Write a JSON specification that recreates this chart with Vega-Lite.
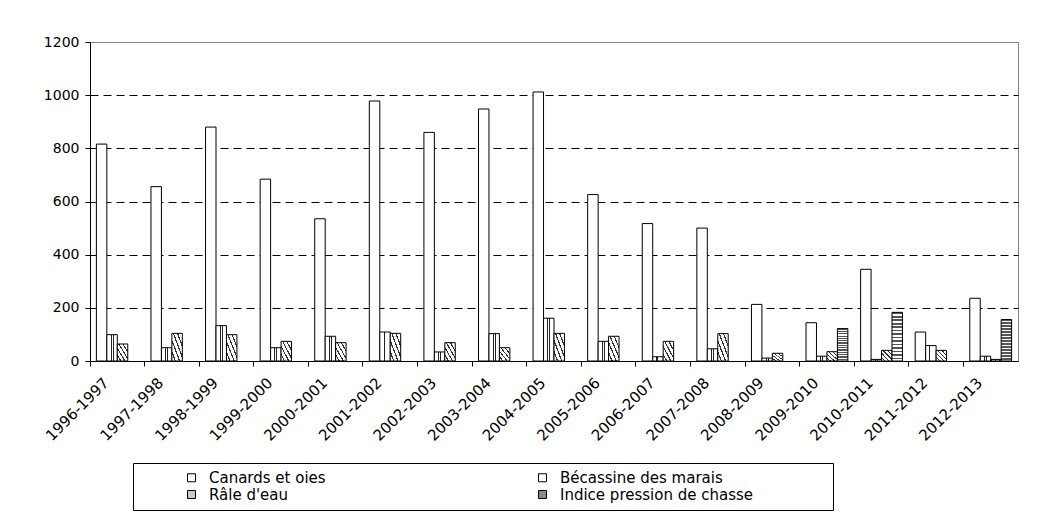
{
  "$schema": "https://vega.github.io/schema/vega-lite/v6.json",
  "width": 928,
  "height": 319,
  "autosize": {"type": "none"},
  "padding": {"left": 90, "top": 42, "right": 28, "bottom": 162},
  "background": "white",
  "config": {
    "font": "DejaVu Sans",
    "view": {"stroke": "#808080", "strokeWidth": 1}
  },
  "data": {
    "values": [
      {"season": "1996-1997", "series": "Canards et oies", "value": 816},
      {"season": "1996-1997", "series": "Bécassine des marais", "value": 99},
      {"season": "1996-1997", "series": "Râle d'eau", "value": 64},
      {"season": "1997-1998", "series": "Canards et oies", "value": 656},
      {"season": "1997-1998", "series": "Bécassine des marais", "value": 50},
      {"season": "1997-1998", "series": "Râle d'eau", "value": 104},
      {"season": "1998-1999", "series": "Canards et oies", "value": 880},
      {"season": "1998-1999", "series": "Bécassine des marais", "value": 133},
      {"season": "1998-1999", "series": "Râle d'eau", "value": 99},
      {"season": "1999-2000", "series": "Canards et oies", "value": 684},
      {"season": "1999-2000", "series": "Bécassine des marais", "value": 50},
      {"season": "1999-2000", "series": "Râle d'eau", "value": 74},
      {"season": "2000-2001", "series": "Canards et oies", "value": 535},
      {"season": "2000-2001", "series": "Bécassine des marais", "value": 93},
      {"season": "2000-2001", "series": "Râle d'eau", "value": 69},
      {"season": "2001-2002", "series": "Canards et oies", "value": 978},
      {"season": "2001-2002", "series": "Bécassine des marais", "value": 109},
      {"season": "2001-2002", "series": "Râle d'eau", "value": 104},
      {"season": "2002-2003", "series": "Canards et oies", "value": 860},
      {"season": "2002-2003", "series": "Bécassine des marais", "value": 34},
      {"season": "2002-2003", "series": "Râle d'eau", "value": 69},
      {"season": "2003-2004", "series": "Canards et oies", "value": 948},
      {"season": "2003-2004", "series": "Bécassine des marais", "value": 103},
      {"season": "2003-2004", "series": "Râle d'eau", "value": 50},
      {"season": "2004-2005", "series": "Canards et oies", "value": 1012},
      {"season": "2004-2005", "series": "Bécassine des marais", "value": 161},
      {"season": "2004-2005", "series": "Râle d'eau", "value": 104},
      {"season": "2005-2006", "series": "Canards et oies", "value": 626},
      {"season": "2005-2006", "series": "Bécassine des marais", "value": 74},
      {"season": "2005-2006", "series": "Râle d'eau", "value": 93},
      {"season": "2006-2007", "series": "Canards et oies", "value": 517},
      {"season": "2006-2007", "series": "Bécassine des marais", "value": 16},
      {"season": "2006-2007", "series": "Râle d'eau", "value": 74},
      {"season": "2007-2008", "series": "Canards et oies", "value": 500},
      {"season": "2007-2008", "series": "Bécassine des marais", "value": 46},
      {"season": "2007-2008", "series": "Râle d'eau", "value": 103},
      {"season": "2008-2009", "series": "Canards et oies", "value": 213},
      {"season": "2008-2009", "series": "Bécassine des marais", "value": 11},
      {"season": "2008-2009", "series": "Râle d'eau", "value": 29},
      {"season": "2009-2010", "series": "Canards et oies", "value": 144},
      {"season": "2009-2010", "series": "Bécassine des marais", "value": 18},
      {"season": "2009-2010", "series": "Râle d'eau", "value": 35},
      {"season": "2009-2010", "series": "Indice pression de chasse", "value": 122},
      {"season": "2010-2011", "series": "Canards et oies", "value": 345},
      {"season": "2010-2011", "series": "Bécassine des marais", "value": 6},
      {"season": "2010-2011", "series": "Râle d'eau", "value": 40},
      {"season": "2010-2011", "series": "Indice pression de chasse", "value": 183},
      {"season": "2011-2012", "series": "Canards et oies", "value": 109},
      {"season": "2011-2012", "series": "Bécassine des marais", "value": 58},
      {"season": "2011-2012", "series": "Râle d'eau", "value": 40},
      {"season": "2012-2013", "series": "Canards et oies", "value": 236},
      {"season": "2012-2013", "series": "Bécassine des marais", "value": 18},
      {"season": "2012-2013", "series": "Râle d'eau", "value": 6},
      {"season": "2012-2013", "series": "Indice pression de chasse", "value": 156}
    ]
  },
  "mark": {"type": "bar", "stroke": "black", "strokeWidth": 1},
  "encoding": {
    "x": {
      "field": "season",
      "type": "nominal",
      "scale": {"paddingInner": 0, "paddingOuter": 0},
      "axis": {
        "title": null,
        "labelAngle": -45,
        "labelFontSize": 15,
        "labelColor": "black",
        "labelOffset": -16,
        "labelPadding": 9,
        "domainColor": "black",
        "tickColor": "black",
        "tickSize": 5,
        "bandPosition": 0
      }
    },
    "xOffset": {
      "field": "series",
      "type": "nominal",
      "scale": {
        "domain": ["Canards et oies", "Bécassine des marais", "Râle d'eau", "Indice pression de chasse"],
        "paddingInner": 0,
        "paddingOuter": 0.61
      }
    },
    "y": {
      "field": "value",
      "type": "quantitative",
      "scale": {"domain": [0, 1200], "nice": false},
      "axis": {
        "title": null,
        "values": [0, 200, 400, 600, 800, 1000, 1200],
        "format": "d",
        "labelFontSize": 14,
        "labelColor": "black",
        "labelPadding": 6,
        "domainColor": "black",
        "tickColor": "black",
        "tickSize": 5,
        "grid": true,
        "gridColor": "black",
        "gridDash": [8, 5],
        "gridOpacity": {"condition": {"test": "datum.value === 1200 || datum.value === 0", "value": 0}, "value": 1}
      }
    },
    "fill": {
      "field": "series",
      "type": "nominal",
      "scale": {
        "domain": ["Canards et oies", "Bécassine des marais", "Râle d'eau", "Indice pression de chasse"],
        "range": ["#ffffff", "#ffffff", "#c8c8c8", "#8a8a8a"]
      },
      "condition": [
        {
          "test": "datum.series === 'Bécassine des marais'",
          "value": {
            "gradient": "linear", "x1": 0, "y1": 0, "x2": 1, "y2": 0,
            "stops": [
              {"offset": 0, "color": "#ffffff"},
              {"offset": 0.36, "color": "#ffffff"},
              {"offset": 0.36, "color": "#222222"},
              {"offset": 0.46, "color": "#222222"},
              {"offset": 0.46, "color": "#ffffff"},
              {"offset": 0.56, "color": "#ffffff"},
              {"offset": 0.56, "color": "#222222"},
              {"offset": 0.64, "color": "#222222"},
              {"offset": 0.64, "color": "#ffffff"},
              {"offset": 1, "color": "#ffffff"}
            ]
          }
        },
        {
          "test": "datum.series === 'Râle d\\'eau'",
          "value": {
            "gradient": "linear", "x1": 0, "y1": 1, "x2": 1, "y2": 0,
            "stops": [
              {"offset": 0, "color": "#ffffff"},
              {"offset": 0.14, "color": "#ffffff"},
              {"offset": 0.14, "color": "#333333"},
              {"offset": 0.2, "color": "#333333"},
              {"offset": 0.2, "color": "#ffffff"},
              {"offset": 0.34, "color": "#ffffff"},
              {"offset": 0.34, "color": "#333333"},
              {"offset": 0.4, "color": "#333333"},
              {"offset": 0.4, "color": "#ffffff"},
              {"offset": 0.54, "color": "#ffffff"},
              {"offset": 0.54, "color": "#333333"},
              {"offset": 0.6, "color": "#333333"},
              {"offset": 0.6, "color": "#ffffff"},
              {"offset": 0.74, "color": "#ffffff"},
              {"offset": 0.74, "color": "#333333"},
              {"offset": 0.8, "color": "#333333"},
              {"offset": 0.8, "color": "#ffffff"},
              {"offset": 1, "color": "#ffffff"}
            ]
          }
        },
        {
          "test": "datum.series === 'Indice pression de chasse'",
          "value": {
            "gradient": "linear", "x1": 0, "y1": 0, "x2": 0, "y2": 1,
            "stops": [
              {"offset": 0, "color": "#555555"}, {"offset": 0.0357, "color": "#555555"}, {"offset": 0.0357, "color": "#ffffff"}, {"offset": 0.0714, "color": "#ffffff"},
              {"offset": 0.0714, "color": "#555555"}, {"offset": 0.1071, "color": "#555555"}, {"offset": 0.1071, "color": "#ffffff"}, {"offset": 0.1429, "color": "#ffffff"},
              {"offset": 0.1429, "color": "#555555"}, {"offset": 0.1786, "color": "#555555"}, {"offset": 0.1786, "color": "#ffffff"}, {"offset": 0.2143, "color": "#ffffff"},
              {"offset": 0.2143, "color": "#555555"}, {"offset": 0.25, "color": "#555555"}, {"offset": 0.25, "color": "#ffffff"}, {"offset": 0.2857, "color": "#ffffff"},
              {"offset": 0.2857, "color": "#555555"}, {"offset": 0.3214, "color": "#555555"}, {"offset": 0.3214, "color": "#ffffff"}, {"offset": 0.3571, "color": "#ffffff"},
              {"offset": 0.3571, "color": "#555555"}, {"offset": 0.3929, "color": "#555555"}, {"offset": 0.3929, "color": "#ffffff"}, {"offset": 0.4286, "color": "#ffffff"},
              {"offset": 0.4286, "color": "#555555"}, {"offset": 0.4643, "color": "#555555"}, {"offset": 0.4643, "color": "#ffffff"}, {"offset": 0.5, "color": "#ffffff"},
              {"offset": 0.5, "color": "#555555"}, {"offset": 0.5357, "color": "#555555"}, {"offset": 0.5357, "color": "#ffffff"}, {"offset": 0.5714, "color": "#ffffff"},
              {"offset": 0.5714, "color": "#555555"}, {"offset": 0.6071, "color": "#555555"}, {"offset": 0.6071, "color": "#ffffff"}, {"offset": 0.6429, "color": "#ffffff"},
              {"offset": 0.6429, "color": "#555555"}, {"offset": 0.6786, "color": "#555555"}, {"offset": 0.6786, "color": "#ffffff"}, {"offset": 0.7143, "color": "#ffffff"},
              {"offset": 0.7143, "color": "#555555"}, {"offset": 0.75, "color": "#555555"}, {"offset": 0.75, "color": "#ffffff"}, {"offset": 0.7857, "color": "#ffffff"},
              {"offset": 0.7857, "color": "#555555"}, {"offset": 0.8214, "color": "#555555"}, {"offset": 0.8214, "color": "#ffffff"}, {"offset": 0.8571, "color": "#ffffff"},
              {"offset": 0.8571, "color": "#555555"}, {"offset": 0.8929, "color": "#555555"}, {"offset": 0.8929, "color": "#ffffff"}, {"offset": 0.9286, "color": "#ffffff"},
              {"offset": 0.9286, "color": "#555555"}, {"offset": 0.9643, "color": "#555555"}, {"offset": 0.9643, "color": "#ffffff"}, {"offset": 1, "color": "#ffffff"}
            ]
          }
        }
      ],
      "legend": {
        "orient": "none",
        "legendX": 43,
        "legendY": 421,
        "direction": "horizontal",
        "columns": 2,
        "columnPadding": 165,
        "rowPadding": 1,
        "title": " ",
        "titleOrient": "right",
        "titlePadding": 73,
        "titleFontSize": 15,
        "symbolOffset": 44,
        "padding": 7,
        "fillColor": "white",
        "strokeColor": "black",
        "symbolType": "square",
        "symbolSize": 64,
        "symbolStrokeColor": "black",
        "symbolStrokeWidth": 1,
        "labelFontSize": 15,
        "labelColor": "black",
        "labelOffset": 10,
        "labelLimit": 500
      }
    }
  }
}
